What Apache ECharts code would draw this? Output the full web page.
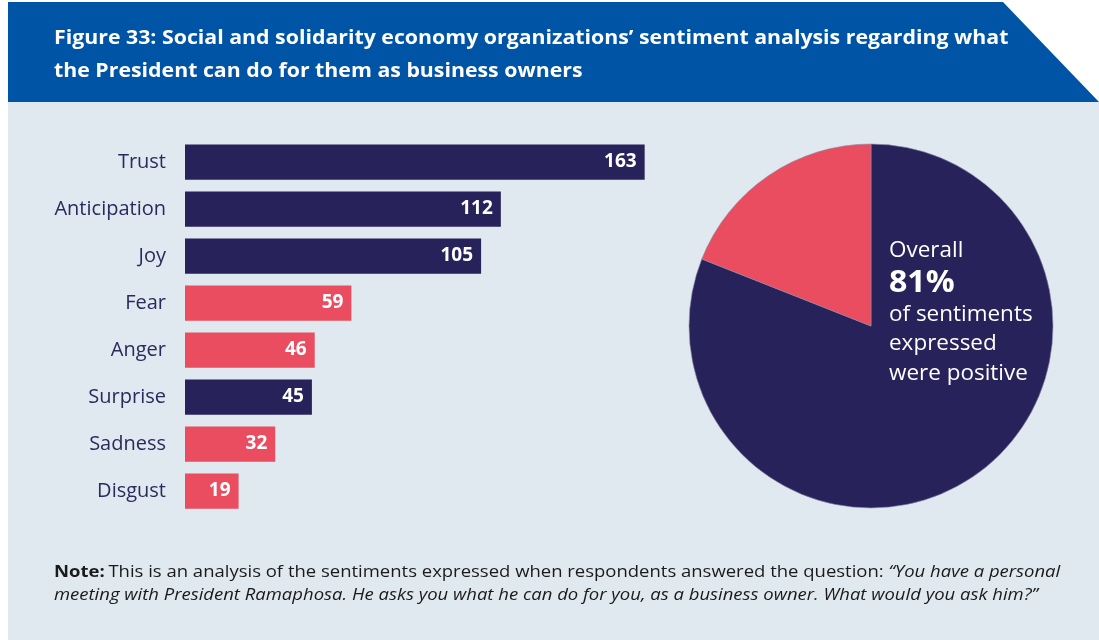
<!DOCTYPE html>
<html>
<head>
<meta charset="utf-8">
<script src="https://cdn.jsdelivr.net/npm/echarts@6/dist/echarts.min.js"></script>
<style>
  html, body { margin: 0; padding: 0; background: #ffffff; }
  #chart { width: 1099px; height: 640px; }
</style>
</head>
<body>
<div id="chart"></div>
<script>
// Sentiment counts (bar chart), top to bottom
const categories = ['Trust', 'Anticipation', 'Joy', 'Fear', 'Anger', 'Surprise', 'Sadness', 'Disgust'];
const counts = [163, 112, 105, 59, 46, 45, 32, 19];
const tone = ['positive', 'positive', 'positive', 'negative', 'negative', 'positive', 'negative', 'negative'];

// Overall share of sentiments (pie chart), in percent
const pieLabels = ['Positive', 'Negative'];
const pieValues = [81, 19];

const NAVY = '#28225a';
const RED = '#e94d5f';
const BLUE = '#0054a5';
const PANEL = '#e1e9f0';
const FONT = '"Open Sans", "Noto Sans", sans-serif';

const chart = echarts.init(document.getElementById('chart'), null, { renderer: 'canvas' });

const positiveShare = Math.round(pieValues[0] / (pieValues[0] + pieValues[1]) * 100);

chart.setOption({
  backgroundColor: '#ffffff',
  animation: false,
  graphic: [
    // light panel behind the charts
    { type: 'rect', z: -10, shape: { x: 8, y: 102, width: 1091, height: 538 }, style: { fill: PANEL } },
    // header banner with slanted right edge
    { type: 'polygon', z: -5, shape: { points: [[8, 2], [1003, 2], [1099, 102], [8, 102]] }, style: { fill: BLUE } },
    {
      type: 'text', x: 54, y: 22, scaleX: 1.065,
      style: {
        text: 'Figure 33: Social and solidarity economy organizations\u2019 sentiment analysis regarding what\nthe President can do for them as business owners',
        fill: '#ffffff', font: 'bold 20px ' + FONT, lineHeight: 33
      }
    },
    // text inside the pie
    {
      type: 'text', x: 889, y: 236, z: 20, scaleX: 1.07,
      style: {
        text: '{a|Overall}\n{b|' + positiveShare + '%}\n{c|of sentiments}\n{c|expressed}\n{c|were positive}',
        rich: {
          a: { fill: '#ffffff', fontFamily: FONT, fontSize: 21, lineHeight: 30 },
          b: { fill: '#ffffff', fontFamily: FONT, fontSize: 30, fontWeight: 'bold', lineHeight: 34 },
          c: { fill: '#ffffff', fontFamily: FONT, fontSize: 21, lineHeight: 29.5 }
        }
      }
    },
    // footnote
    {
      type: 'text', x: 54, y: 560.5, scaleX: 1.12,
      style: {
        text: '{b|Note:} {r|This is an analysis of the sentiments expressed when respondents answered the question: }{i|\u201cYou have a personal}\n{i|meeting with President Ramaphosa. He asks you what he can do for you, as a business owner. What would you ask him?\u201d}',
        rich: {
          b: { fill: '#1a1a1a', fontFamily: FONT, fontSize: 16.5, fontWeight: 'bold', lineHeight: 23 },
          r: { fill: '#1a1a1a', fontFamily: FONT, fontSize: 16.5, lineHeight: 23 },
          i: { fill: '#1a1a1a', fontFamily: FONT, fontSize: 16.5, fontStyle: 'italic', lineHeight: 23 }
        }
      }
    }
  ],
  grid: { left: 185, top: 138.5, width: 564, height: 376, containLabel: false },
  xAxis: { type: 'value', min: 0, max: 200, show: false },
  yAxis: {
    type: 'category', inverse: true, data: categories,
    axisLine: { show: false }, axisTick: { show: false },
    axisLabel: { color: '#2b2a5c', fontFamily: FONT, fontSize: 20, margin: 19 }
  },
  series: [
    {
      type: 'bar', silent: true,
      barCategoryGap: '25%',
      data: counts.map((v, i) => ({ value: v, itemStyle: { color: tone[i] === 'positive' ? NAVY : RED } })),
      label: {
        show: true, position: 'insideRight', distance: 8,
        color: '#ffffff', fontFamily: FONT, fontSize: 19, fontWeight: 'bold'
      }
    },
    {
      type: 'pie', silent: true,
      center: [871, 326], radius: [0, 182],
      startAngle: 90, clockwise: true,
      label: { show: false }, labelLine: { show: false },
      itemStyle: { borderColor: '#8f8aa8', borderWidth: 0.6 },
      data: pieLabels.map((n, i) => ({ name: n, value: pieValues[i], itemStyle: { color: i === 0 ? NAVY : RED } }))
    }
  ]
});
</script>
</body>
</html>
